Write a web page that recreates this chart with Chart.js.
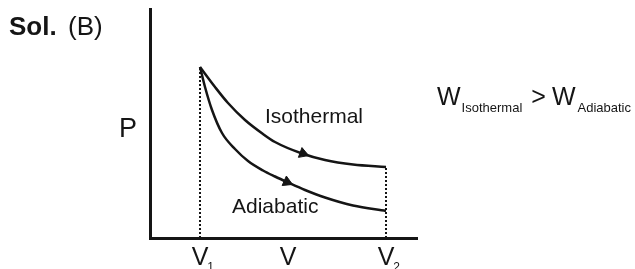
<!DOCTYPE html>
<html>
<head>
<meta charset="utf-8">
<script src="https://cdn.jsdelivr.net/npm/chart.js@4"></script>
<style>
    html, body { margin: 0; padding: 0; background: #fff; }
    canvas { display: block; }
</style>
</head>
<body>
<canvas id="chart" width="635" height="269"></canvas>
<script>
// Curvas P-V
const isoV = [1.0, 1.30, 1.56, 1.90, 2.26, 2.50, 3.04, 3.50, 4.06, 4.72];
const isoP = [3.42, 3.02, 2.70, 2.36, 2.08, 1.92, 1.69, 1.56, 1.47, 1.42];
const adiV = [1.0, 1.10, 1.24, 1.44, 1.70, 1.96, 2.26, 2.50, 2.76, 3.10, 3.50, 4.06, 4.72];
const adiP = [3.42, 3.02, 2.56, 2.10, 1.78, 1.54, 1.35, 1.23, 1.11, 0.96, 0.81, 0.65, 0.54];

// Setas sobre as curvas
const arrowV = [3.06, 2.74];
const arrowP = [1.69, 1.12];
const arrowRot = [110, 114];

// Rótulos do eixo V
const tickValues = [1.0, 2.76, 4.72];
const tickMain = ['V', 'V', 'V'];
const tickSub = ['1', '', '2'];

const toPoints = (xs, ys) => xs.map((x, i) => ({ x: x, y: ys[i] }));
const ink = '#151515';

// Plugin para textos (rótulos, títulos, equação)
const textPlugin = {
    id: 'texts',
    afterDraw(chart) {
        const ctx = chart.ctx;
        const xs = chart.scales.x;
        ctx.save();
        ctx.fillStyle = ink;
        ctx.textBaseline = 'alphabetic';
        ctx.textAlign = 'left';

        // Sol. (B)
        ctx.font = 'bold 26px "Liberation Sans", Arial, sans-serif';
        ctx.fillText('Sol.', 9, 35);
        ctx.font = '26px "Liberation Sans", Arial, sans-serif';
        ctx.fillText('(B)', 68, 35);

        // Eixo P
        ctx.font = '27px "Liberation Sans", Arial, sans-serif';
        ctx.fillText('P', 119, 137);

        // Rótulos das curvas
        ctx.font = '21px "Liberation Sans", Arial, sans-serif';
        ctx.fillText('Isothermal', 265, 123);
        ctx.fillText('Adiabatic', 232, 213);

        // Rótulos V1, V, V2
        tickValues.forEach((v, i) => {
            const px = xs.getPixelForValue(v);
            ctx.font = '25px "Liberation Sans", Arial, sans-serif';
            ctx.textAlign = 'center';
            ctx.fillText(tickMain[i], px, 265);
            if (tickSub[i]) {
                const w = ctx.measureText(tickMain[i]).width;
                ctx.textAlign = 'left';
                ctx.font = '12px "Liberation Sans", Arial, sans-serif';
                ctx.fillText(tickSub[i], px + w / 2 - 1, 271);
            }
        });

        // Equação W_Isothermal > W_Adiabatic
        ctx.textAlign = 'left';
        let x = 437;
        ctx.font = '25px "Liberation Sans", Arial, sans-serif';
        ctx.fillText('W', x, 105);
        x += ctx.measureText('W').width + 1;
        ctx.font = '13px "Liberation Sans", Arial, sans-serif';
        ctx.fillText('Isothermal', x, 112);
        x += ctx.measureText('Isothermal').width + 9;
        ctx.font = '25px "Liberation Sans", Arial, sans-serif';
        ctx.fillText('>', x, 105);
        x += ctx.measureText('>').width + 6;
        ctx.fillText('W', x, 105);
        x += ctx.measureText('W').width + 2;
        ctx.font = '13px "Liberation Sans", Arial, sans-serif';
        ctx.fillText('Adiabatic', x, 112);
        ctx.restore();
    }
};

new Chart(document.getElementById('chart'), {
    type: 'scatter',
    data: {
        datasets: [
            {
                data: [{ x: isoV[0], y: 0 }, { x: isoV[0], y: isoP[0] }],
                showLine: true,
                borderColor: ink,
                borderWidth: 2,
                borderDash: [2, 2],
                pointRadius: 0
            },
            {
                data: [{ x: isoV[isoV.length - 1], y: 0 }, { x: isoV[isoV.length - 1], y: isoP[isoP.length - 1] }],
                showLine: true,
                borderColor: ink,
                borderWidth: 2,
                borderDash: [2, 2],
                pointRadius: 0
            },
            {
                label: 'Isothermal',
                data: toPoints(isoV, isoP),
                showLine: true,
                borderColor: ink,
                borderWidth: 2.5,
                pointRadius: 0,
                cubicInterpolationMode: 'monotone'
            },
            {
                label: 'Adiabatic',
                data: toPoints(adiV, adiP),
                showLine: true,
                borderColor: ink,
                borderWidth: 2.5,
                pointRadius: 0,
                cubicInterpolationMode: 'monotone'
            },
            {
                data: toPoints(arrowV, arrowP),
                showLine: false,
                pointStyle: 'triangle',
                pointRadius: 6,
                rotation: arrowRot,
                backgroundColor: ink,
                borderColor: ink,
                borderWidth: 1
            }
        ]
    },
    options: {
        responsive: false,
        animation: false,
        devicePixelRatio: 1,
        layout: {
            padding: { left: 150, right: 218, top: 9, bottom: 31 }
        },
        plugins: {
            legend: { display: false },
            tooltip: { enabled: false }
        },
        scales: {
            x: {
                type: 'linear',
                min: 0,
                max: 5.34,
                ticks: { display: false },
                grid: { display: false },
                border: { display: true, color: ink, width: 3 },
                afterFit: s => { s.height = 0; }
            },
            y: {
                type: 'linear',
                min: 0,
                max: 4.58,
                ticks: { display: false },
                grid: { display: false },
                border: { display: true, color: ink, width: 3 },
                afterFit: s => { s.width = 0; }
            }
        }
    },
    plugins: [textPlugin]
});
</script>
</body>
</html>
